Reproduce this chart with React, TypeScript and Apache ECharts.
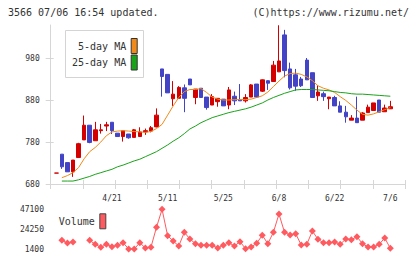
import React, { useEffect, useRef } from "react";
import * as echarts from "echarts";

// ---- data ----
const dates = [
  "4/7", "4/8", "4/9", "4/10", "4/13", "4/14", "4/15", "4/16", "4/17", "4/20",
  "4/21", "4/22", "4/23", "4/24", "4/27", "4/28", "4/30", "5/1", "5/7", "5/8",
  "5/11", "5/12", "5/13", "5/14", "5/15", "5/18", "5/19", "5/20", "5/21", "5/22",
  "5/25", "5/26", "5/27", "5/28", "5/29", "6/1", "6/2", "6/3", "6/4", "6/5",
  "6/8", "6/9", "6/10", "6/11", "6/12", "6/15", "6/16", "6/17", "6/18", "6/19",
  "6/22", "6/23", "6/24", "6/25", "6/26", "6/29", "6/30", "7/1", "7/2", "7/3",
  "7/6",
];
const dateLabels = ["4/21", "5/11", "5/25", "6/8", "6/22", "7/6"];

const openP = [
  706, 751, 731, 709, 743, 785, 820, 783, 807, 818,
  827, 801, 793, 799, 791, 793, 804, 806, 816, 954,
  941, 883, 884, 909, 930, 886, 908, 887, 868, 876,
  882, 868, 889, 881, 878, 887, 918, 901, 926, 924,
  947, 1035, 954, 940, 930, 975, 945, 890, 895, 883,
  886, 866, 851, 832, 837, 832, 850, 855, 880, 852,
  859,
];
const closeP = [
  706, 721, 709, 737, 776, 820, 779, 809, 809, 821,
  807, 793, 807, 790, 809, 804, 807, 814, 844, 936,
  897, 894, 910, 884, 916, 906, 886, 862, 888, 884,
  866, 904, 878, 878, 886, 916, 887, 928, 920, 963,
  973, 950, 909, 913, 914, 928, 886, 899, 888, 887,
  866, 851, 840, 837, 826, 849, 863, 873, 851, 861,
  864,
];
const lowP = [
  706, 716, 709, 697, 743, 785, 777, 783, 800, 806,
  799, 793, 781, 788, 791, 793, 797, 803, 815, 888,
  897, 866, 884, 851, 916, 870, 886, 857, 868, 864,
  866, 858, 868, 878, 874, 887, 885, 899, 904, 924,
  947, 934, 905, 902, 911, 928, 886, 878, 878, 858,
  866, 851, 826, 832, 826, 832, 850, 855, 851, 852,
  859,
];
const highP = [
  706, 751, 731, 737, 778, 843, 820, 828, 823, 828,
  827, 801, 808, 799, 811, 815, 812, 818, 860, 954,
  941, 925, 913, 917, 930, 906, 908, 887, 894, 884,
  882, 911, 900, 918, 894, 918, 918, 929, 927, 973,
  1058, 1047, 969, 954, 935, 980, 945, 915, 900, 887,
  890, 877, 866, 844, 888, 851, 869, 873, 880, 869,
  878,
];
const ma5 = [
  null, 695, 700, 707, 719, 740, 757, 767, 780, 795,
  804, 806, 807, 806, 805, 804, 803, 805, 812, 822,
  844, 866, 886, 900, 905, 905, 907, 898, 887, 882,
  880, 880, 881, 881, 881, 882, 886, 890, 899, 912,
  925, 937, 943, 944, 941, 935, 926, 914, 908, 904,
  898, 888, 879, 868, 856, 846, 844, 847, 852, 857,
  862,
];
const ma25 = [
  null, 687, 687, 687, 690, 694, 698, 703, 707, 711,
  715, 721, 725, 730, 735, 739, 745, 751, 757, 765,
  773, 782, 790, 800, 811, 818, 826, 832, 838, 842,
  846, 850, 853, 856, 859, 863, 868, 873, 880, 886,
  891, 896, 900, 904, 905, 905, 905, 904, 903, 902,
  900, 898, 897, 895, 894, 894, 893, 892, 891, 890,
  889,
];
const volume = [
  null, 11400, 8300, 9450, null, null, 11400, 6800, 3350, 6800,
  4050, 5660, 8650, 1400, 1400, 8650, 2550, 3350, 26400, 47100,
  16700, 10600, 4850, 20600, 12900, 7500, 5660, 5660, 5660, 2550,
  5660, 8650, 4850, 9800, 1800, 3700, 7950, 17200, 7500, 20600,
  41700, 20600, 17500, 19000, 6000, 6800, 22100, 12600, 8650, 8650,
  9450, 6800, 12900, 12100, 15600, 7500, 3700, 3700, 6800, 14100,
  2200,
];
const priceTicks = [680, 780, 880, 980];
const volumeTicks = [1400, 24250, 47100];

// ---- styles ----
const MONO = '"DejaVu Sans Mono", monospace';
const RED = "#d40000";
const BLUE = "#4343c6";
const ORANGE = "#f08a1a";
const GREEN = "#1aa31a";
const VOL = "#ff5a5f";
const AXIS = "#d6d6d6";
const TXT = "#333333";

const PMIN = 680;
const PMAX = 1058.6;
const VMIN = 1400;
const VMAX = 47100;

export default function App() {
  const ref = useRef<HTMLDivElement>(null);

  useEffect(() => {
    if (!ref.current) return;
    const chart = echarts.init(ref.current, undefined, { renderer: "svg" });
    const candleData = dates.map((_, i) => [openP[i], closeP[i], lowP[i], highP[i]]);
    const legendText = { fontSize: 10, fontFamily: MONO, color: TXT };

    chart.setOption({
      animation: false,
      backgroundColor: "#ffffff",
      textStyle: { fontFamily: MONO },
      title: [
        {
          text: "3566 07/06 16:54 updated.",
          left: 8,
          top: 7,
          padding: 0,
          textStyle: { fontSize: 10, fontFamily: MONO, fontWeight: "normal", color: TXT },
        },
        {
          text: "(C)https://www.rizumu.net/",
          right: 11,
          top: 7,
          padding: 0,
          textStyle: { fontSize: 10, fontFamily: MONO, fontWeight: "normal", color: TXT },
        },
      ],
      graphic: [
        {
          type: "rect",
          shape: { x: 65.5, y: 30.5, width: 78, height: 47 },
          style: { fill: "#ffffff", stroke: "#d4d4d4", lineWidth: 1 },
          z: 0,
        },
      ],
      legend: [
        {
          data: ["5-day MA"],
          right: 282.3,
          top: 38,
          padding: 0,
          align: "right",
          icon: "rect",
          itemWidth: 6,
          itemHeight: 15,
          selectedMode: false,
          itemStyle: { borderColor: "#333", borderWidth: 1 },
          textStyle: legendText,
          z: 10,
        },
        {
          data: ["25-day MA"],
          right: 282.3,
          top: 54.5,
          padding: 0,
          align: "right",
          icon: "rect",
          itemWidth: 6,
          itemHeight: 15,
          selectedMode: false,
          itemStyle: { borderColor: "#333", borderWidth: 1 },
          textStyle: legendText,
          z: 10,
        },
        {
          data: ["Volume"],
          left: 58.7,
          top: 213.3,
          padding: 0,
          align: "right",
          icon: "rect",
          itemWidth: 6,
          itemHeight: 15,
          selectedMode: false,
          itemStyle: { borderColor: "#444", borderWidth: 1 },
          textStyle: legendText,
        },
      ],
      grid: [
        { left: 53.5, width: 339.6, top: 25, height: 159 }, // candles
        { left: 50.7, width: 354.3, top: 25, height: 159 }, // frame
        { left: 53.5, width: 339.6, top: 209.3, height: 39.7 }, // volume
        { left: 50.7, width: 354.3, top: 25, height: 159 }, // inner ticks
      ],
      xAxis: [
        {
          type: "category",
          gridIndex: 0,
          data: dates,
          boundaryGap: true,
          axisLine: { show: false },
          axisTick: { show: false },
          splitLine: { show: false },
          axisLabel: {
            interval: (_i: number, v: string) => dateLabels.indexOf(v) >= 0,
            fontSize: 8,
            fontFamily: MONO,
            color: TXT,
            margin: 10,
          },
        },
        {
          type: "value",
          gridIndex: 1,
          min: 0,
          max: 11,
          interval: 1,
          axisLine: { show: true, lineStyle: { color: AXIS, width: 1 } },
          axisTick: { show: true, inside: false, length: 5, lineStyle: { color: AXIS } },
          axisLabel: { show: false },
          splitLine: { show: false },
        },
        {
          type: "category",
          gridIndex: 2,
          data: dates,
          boundaryGap: true,
          show: false,
        },
        {
          type: "value",
          gridIndex: 3,
          min: 0,
          max: 11,
          interval: 1,
          axisLine: { show: false },
          axisTick: { show: true, inside: true, length: 4, lineStyle: { color: AXIS } },
          axisLabel: { show: false },
          splitLine: { show: false },
        },
      ],
      yAxis: [
        {
          type: "value",
          gridIndex: 0,
          min: PMIN,
          max: PMAX,
          show: false,
          splitLine: { show: false },
        },
        {
          type: "value",
          gridIndex: 1,
          min: PMIN,
          max: PMAX,
          axisLine: { show: true, lineStyle: { color: AXIS, width: 1 } },
          axisTick: {
            show: true,
            inside: false,
            length: 5,
            customValues: priceTicks,
            lineStyle: { color: AXIS },
          },
          axisLabel: {
            customValues: priceTicks,
            formatter: (v: number) => String(v),
            fontSize: 8,
            fontFamily: MONO,
            color: TXT,
            margin: 11,
          },
          splitLine: { show: false },
        },
        {
          type: "value",
          gridIndex: 2,
          min: VMIN,
          max: VMAX,
          axisLine: { show: false },
          axisTick: { show: false },
          axisLabel: {
            customValues: volumeTicks,
            formatter: (v: number) => String(v),
            fontSize: 8,
            fontFamily: MONO,
            color: TXT,
            margin: 9.5,
          },
          splitLine: { show: false },
        },
        {
          type: "value",
          gridIndex: 3,
          min: PMIN,
          max: PMAX,
          axisLine: { show: false },
          axisTick: {
            show: true,
            inside: true,
            length: 3,
            customValues: priceTicks,
            lineStyle: { color: AXIS },
          },
          axisLabel: { show: false },
          splitLine: { show: false },
        },
      ],
      series: [
        {
          type: "candlestick",
          name: "price",
          xAxisIndex: 0,
          yAxisIndex: 0,
          data: candleData,
          barWidth: 4,
          itemStyle: {
            color: RED,
            color0: BLUE,
            borderColor: RED,
            borderColor0: BLUE,
            borderWidth: 1,
          },
        },
        {
          type: "line",
          name: "5-day MA",
          xAxisIndex: 0,
          yAxisIndex: 0,
          data: ma5,
          symbol: "none",
          color: ORANGE,
          lineStyle: { width: 1, color: ORANGE },
        },
        {
          type: "line",
          name: "25-day MA",
          xAxisIndex: 0,
          yAxisIndex: 0,
          data: ma25,
          symbol: "none",
          color: GREEN,
          lineStyle: { width: 1, color: GREEN },
        },
        {
          type: "line",
          name: "Volume",
          xAxisIndex: 2,
          yAxisIndex: 2,
          data: volume,
          symbol: "diamond",
          symbolSize: 7,
          showAllSymbol: true,
          color: VOL,
          itemStyle: { color: VOL },
          lineStyle: { width: 1, color: VOL },
          connectNulls: false,
        },
      ],
    });

    return () => chart.dispose();
  }, []);

  return (
    <div
      ref={ref}
      style={{ position: "fixed", left: 0, top: 0, width: 420, height: 259, background: "#fff" }}
    />
  );
}
